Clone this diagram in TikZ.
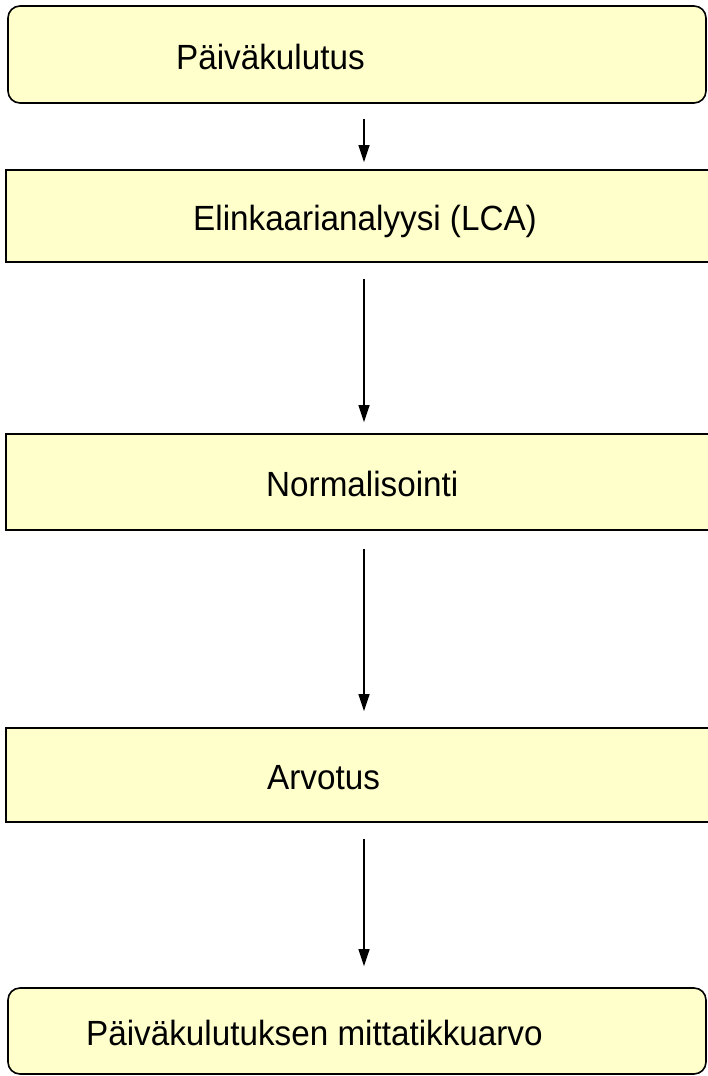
\documentclass[tikz,border=0pt]{standalone}
\usepackage{fontspec}
\setmainfont{Liberation Sans}[FakeStretch=0.95]
\usetikzlibrary{arrows.meta}
\definecolor{boxfill}{HTML}{FFFFCC}
\begin{document}
\begin{tikzpicture}[x=1pt,y=-1pt,
  box/.style={draw=black, line width=1.6pt, fill=boxfill, inner sep=0pt},
  rbox/.style={box, rounded corners=12pt},
  lbl/.style={anchor=base west, inner sep=0pt, font=\fontsize{35}{42}\selectfont},
  arr/.style={-{Triangle[length=17pt,width=11pt]}, line width=1.3pt}]
\useasboundingbox (0,0) rectangle (708,1076);
\coordinate (ax) at (364,0);
% boxes
\node[rbox, minimum width=698pt, minimum height=97pt] (b1) at (357,54.5) {};
\node[box, minimum width=712pt, minimum height=92pt] (b2) at (362,216) {};
\node[box, minimum width=712pt, minimum height=96pt] (b3) at (362,482) {};
\node[box, minimum width=712pt, minimum height=94pt] (b4) at (362,775) {};
\node[rbox, minimum width=698pt, minimum height=86pt] (b5) at (357,1031) {};
% labels
\node[lbl] (t1) at (176,69) {Päiväkulutus};
\node[lbl] (t2) at (193,230) {Elinkaarianalyysi (LCA)};
\node[lbl] (t3) at (266,496) {Normalisointi};
\node[lbl] (t4) at (267,789) {Arvotus};
\node[lbl] (t5) at (86,1045) {Päiväkulutuksen mittatikkuarvo};
% arrows
\draw[arr, shorten <=15pt, shorten >=7pt] (b1.south -| ax) -- (b2.north -| ax);
\draw[arr, shorten <=16pt, shorten >=11pt] (b2.south -| ax) -- (b3.north -| ax);
\draw[arr, shorten <=18pt, shorten >=16pt] (b3.south -| ax) -- (b4.north -| ax);
\draw[arr, shorten <=16pt, shorten >=21pt] (b4.south -| ax) -- (b5.north -| ax);
\end{tikzpicture}
\end{document}
